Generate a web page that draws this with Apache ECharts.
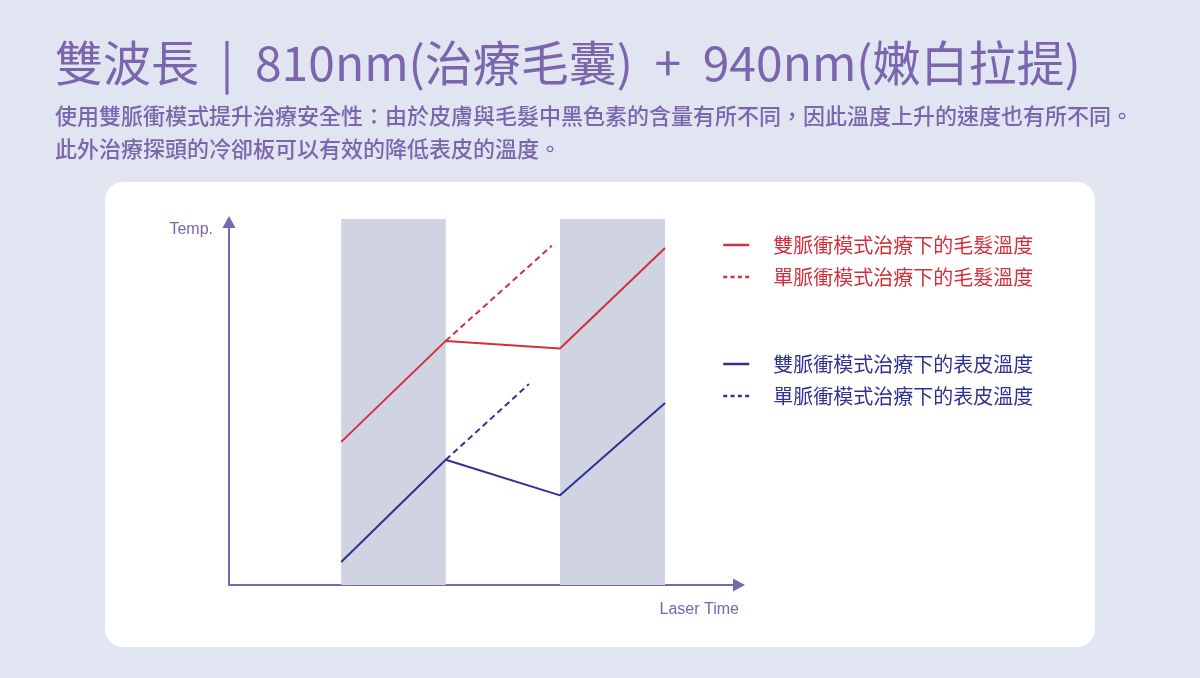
<!DOCTYPE html>
<html>
<head>
<meta charset="utf-8">
<script src="https://cdn.jsdelivr.net/npm/echarts@6/dist/echarts.min.js"></script>
<style>
  html, body { margin: 0; padding: 0; background: #e1e4f1; }
  #main { width: 1200px; height: 678px; }
</style>
</head>
<body>
<div id="main"></div>
<script>
// axis scale is 0-100 on both axes (illustrative chart, no ticks)
const hairDouble = [[22.0, 39.1], [42.5, 66.7], [64.9, 64.6], [85.5, 92.1]];
const hairSingle = [[42.5, 66.7], [63.3, 92.7]];
const skinDouble = [[22.0, 6.3], [42.5, 34.2], [64.9, 24.5], [85.5, 49.7]];
const skinSingle = [[42.5, 34.2], [58.8, 54.9]];
// laser pulse windows on the time axis
const pulses = [[22.0, 42.5], [64.9, 85.5]];

const names = [
  '雙脈衝模式治療下的毛髮溫度',
  '單脈衝模式治療下的毛髮溫度',
  '雙脈衝模式治療下的表皮溫度',
  '單脈衝模式治療下的表皮溫度'
];

const RED = '#d2303a';
const BLUE = '#2f3292';
const PURPLE = '#7b66ae';
const CJK = '"Noto Sans CJK TC", "Noto Sans", sans-serif';

window.onload = () => {
  let chart = echarts.init(document.getElementById('main'));

  const lineSeries = (name, data, color, dashed) => ({
    name: name,
    type: 'line',
    data: data,
    symbol: 'none',
    z: 5,
    silent: true,
    lineStyle: { color: color, width: 2, type: dashed ? [6, 4] : 'solid', cap: 'butt' },
    itemStyle: { color: color }
  });

  const axisLine = (offset) => ({
    show: true,
    symbol: ['none', 'triangle'],
    symbolSize: [13, 12],
    symbolOffset: [0, offset],
    lineStyle: { color: PURPLE, width: 2 }
  });

  // first item solid, second dashed
  const legendBox = (top, items, color) => ({
    left: 722,
    top: top,
    padding: 0,
    orient: 'vertical',
    itemWidth: 26,
    itemHeight: 14,
    itemGap: 12,
    itemStyle: { opacity: 0, borderWidth: 0 },
    data: [
      { name: items[0], textStyle: { color: color }, lineStyle: { width: 2.5, type: 'solid' } },
      { name: items[1], textStyle: { color: color }, lineStyle: { width: 2.5, type: [4, 3.3] } }
    ],
    textStyle: { fontFamily: CJK, fontSize: 20, lineHeight: 20, padding: [0, 0, 0, 19] }
  });

  let option = {
    backgroundColor: '#e1e4f1',
    animation: false,
    title: {
      text: '雙波長  |  810nm(治療毛囊)  +  940nm(嫩白拉提)',
      subtext: '使用雙脈衝模式提升治療安全性：由於皮膚與毛髮中黑色素的含量有所不同，因此溫度上升的速度也有所不同。\n此外治療探頭的冷卻板可以有效的降低表皮的溫度。',
      left: 55,
      top: 40,
      padding: 0,
      itemGap: 11,
      textStyle: { fontFamily: CJK, fontSize: 48, lineHeight: 46, fontWeight: 'normal', color: PURPLE },
      subtextStyle: { fontFamily: CJK, fontSize: 22, lineHeight: 33, fontWeight: 500, color: PURPLE }
    },
    graphic: [{
      type: 'rect',
      shape: { x: 105, y: 182, width: 990, height: 465, r: 18 },
      style: { fill: '#ffffff' },
      z: -10,
      silent: true
    }],
    legend: [
      legendBox(235, [names[0], names[1]], RED),
      legendBox(354, [names[2], names[3]], BLUE)
    ],
    grid: { left: 229, top: 219, width: 510, height: 366 },
    xAxis: {
      type: 'value',
      min: 0,
      max: 100,
      name: 'Laser Time',
      nameLocation: 'end',
      nameGap: 0,
      nameTextStyle: {
        fontFamily: 'Liberation Sans', fontSize: 16, color: PURPLE,
        align: 'right', verticalAlign: 'top', padding: [17, 0, 0, 0]
      },
      axisLine: axisLine(0),
      axisTick: { show: false },
      axisLabel: { show: false },
      splitLine: { show: false }
    },
    yAxis: {
      type: 'value',
      min: 0,
      max: 100,
      name: 'Temp.',
      nameLocation: 'end',
      nameGap: -11,
      nameTextStyle: {
        fontFamily: 'Liberation Sans', fontSize: 16, color: PURPLE,
        align: 'right', verticalAlign: 'middle', padding: [0, 16, 0, 0]
      },
      axisLine: axisLine(-3),
      axisTick: { show: false },
      axisLabel: { show: false },
      splitLine: { show: false }
    },
    series: [
      {
        name: 'pulses',
        type: 'line',
        data: [],
        z: 1,
        silent: true,
        markArea: {
          silent: true,
          itemStyle: { color: '#cfd3e2' },
          data: pulses.map(p => [{ xAxis: p[0], yAxis: 0 }, { xAxis: p[1], yAxis: 100 }])
        }
      },
      lineSeries(names[0], hairDouble, RED, false),
      lineSeries(names[1], hairSingle, RED, true),
      lineSeries(names[2], skinDouble, BLUE, false),
      lineSeries(names[3], skinSingle, BLUE, true)
    ]
  };
  chart.setOption(option);
};
</script>
</body>
</html>
